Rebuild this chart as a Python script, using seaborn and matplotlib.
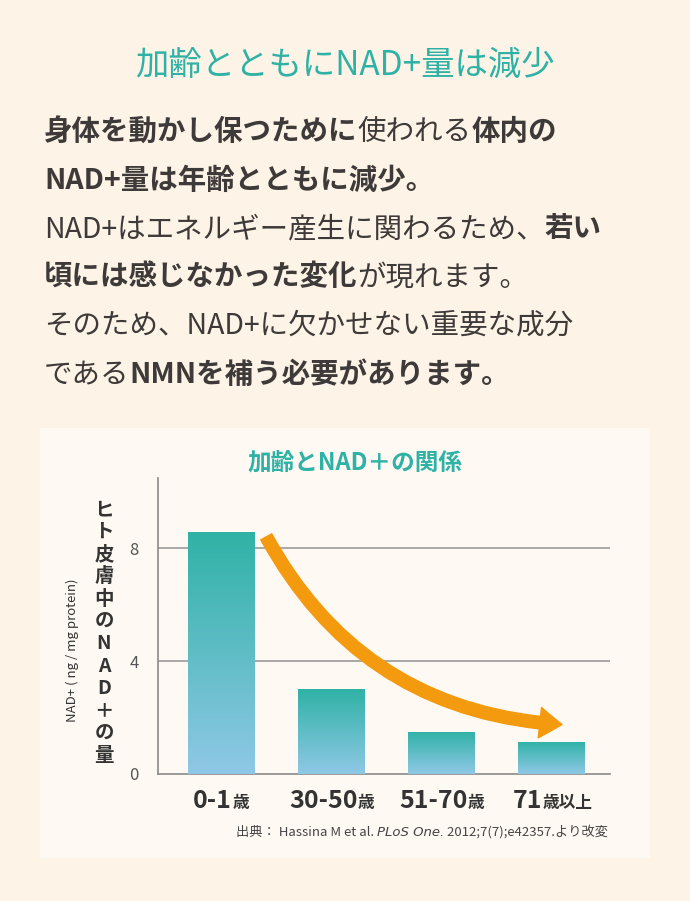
import matplotlib
matplotlib.use("Agg")
import matplotlib.pyplot as plt
import seaborn as sns
import numpy as np
import pandas as pd
from matplotlib.patches import FancyArrowPatch, Rectangle

JP = "Noto Sans CJK JP"
plt.rcParams["font.family"] = JP

categories = ["0-1歳", "30-50歳", "51-70歳", "71歳以上"]
cat_num = ["0-1", "30-50", "51-70", "71"]
cat_suffix = ["歳", "歳", "歳", "歳以上"]
nad_values = [8.6, 3.0, 1.5, 1.15]
y_ticks = [0, 4, 8]

TEAL = "#2fb2a6"
TEXT = "#3d3a39"
BG = "#fdf3e6"
W, H = 690, 901

fig = plt.figure(figsize=(W / 100, H / 100), dpi=100, facecolor=BG)
renderer = fig.canvas.get_renderer()


def px(x, y):
    return x / W, 1 - y / H


def runs(x, y, parts, ha="left", size=19, color=TEXT, family=JP):
    # parts: list of (text, weight, size, style)
    arts = []
    for p in parts:
        txt, wt = p[0], p[1]
        sz = p[2] if len(p) > 2 else size
        st = p[3] if len(p) > 3 else "normal"
        fam = family if st == "normal" or family != JP else "DejaVu Sans"
        t = fig.text(0, 0, txt, fontsize=sz, fontweight=wt, fontstyle=st,
                     color=color, va="baseline", fontfamily=fam)
        arts.append(t)
    widths = [a.get_window_extent(renderer).width for a in arts]
    total = sum(widths)
    if ha == "center":
        x -= total / 2
    elif ha == "right":
        x -= total
    for a, w in zip(arts, widths):
        a.set_position(px(x, y))
        x += w


# header
fig.text(*px(345, 75), "加齢とともにNAD+量は減少", ha="center", va="baseline",
         fontsize=24, color=TEAL)
lines = [
    [("身体を動かし保つために", "bold"), ("使われる", "normal"), ("体内の", "bold")],
    [("NAD+量は年齢とともに減少。", "bold")],
    [("NAD+はエネルギー産生に関わるため、", "normal"), ("若い", "bold")],
    [("頃には感じなかった変化", "bold"), ("が現れます。", "normal")],
    [("そのため、NAD+に欠かせない重要な成分", "normal")],
    [("である", "normal"), ("NMNを補う必要があります。", "bold")],
]
for i, ln in enumerate(lines):
    runs(44, 140 + i * 48.5, ln, size=20.5)

# panel
fig.patches.append(Rectangle(px(40, 858), 610 / W, 430 / H, transform=fig.transFigure,
                             facecolor="#fefaf3", edgecolor="none", zorder=0))
fig.text(*px(355, 470), "加齢とNAD＋の関係", ha="center", va="baseline",
         fontsize=17, fontweight="bold", color=TEAL)

ax = fig.add_axes([158 / W, 1 - 774 / H, (610 - 158) / W, (774 - 478) / H])
ax.set_zorder(3)
ax.set_facecolor("none")
df = pd.DataFrame({"age": categories, "nad": nad_values})
sns.barplot(data=df, x="age", y="nad", ax=ax, width=0.6, color=TEAL,
            edgecolor="none", zorder=2)

# gradient fill
grad = np.linspace(0, 1, 256).reshape(-1, 1)
cmap = matplotlib.colors.LinearSegmentedColormap.from_list("g", ["#8fc8e6", TEAL])
for bar in ax.patches:
    x0, y0 = bar.get_x(), bar.get_y()
    w, h = bar.get_width(), bar.get_height()
    im = ax.imshow(grad, extent=[x0, x0 + w, y0, y0 + h], origin="lower",
                   cmap=cmap, aspect="auto", zorder=3)
    im.set_clip_path(bar)
ax.set_xlim(-0.57, 3.53)
ax.set_ylim(0, 10.5)

for v in y_ticks[1:]:
    ax.axhline(v, color="#9a9a9a", lw=1.2, zorder=1)
sns.despine(ax=ax, top=True, right=True)
for s in ["left", "bottom"]:
    ax.spines[s].set_color("#8a8a8a")
    ax.spines[s].set_linewidth(1.2)
ax.set_yticks(y_ticks)
ax.set_yticklabels([str(v) for v in y_ticks], fontsize=12, color="#555555")
ax.tick_params(axis="y", length=0, pad=14)
ax.tick_params(axis="x", length=0)
ax.set_xticklabels([])
ax.set_xlabel("")
ax.set_ylabel("")

arrow = FancyArrowPatch((0.4, 8.5), (3.12, 1.75), connectionstyle="arc3,rad=0.28",
                        arrowstyle="simple,head_width=2.2,head_length=1.6,tail_width=0.9",
                        mutation_scale=10, color="#f39a0f", zorder=5)
ax.add_patch(arrow)

# x labels
for i, (n, s) in enumerate(zip(cat_num, cat_suffix)):
    xc = 221 + i * 110.5
    runs(xc, 808, [(n, "bold", 18), (s, "bold", 12)], ha="center", color="#333333")

# y labels
ychars = list("ヒト皮膚中のNAD+の量")
for j, c in enumerate(ychars):
    c = "＋" if c == "+" else c
    fig.text(*px(104, 510 + j * 22.3), c, ha="center", va="center", fontsize=14,
             fontweight="bold", color="#333333")
fig.text(*px(72, 650), "NAD+ ( ng / mg protein)", rotation=90, ha="center", va="center",
         fontsize=9.5, color="#333333")

runs(608, 836, [("出典： Hassina M et al. ", "normal", 9.5), ("PLoS One.", "normal", 9.5, "italic"),
                (" 2012;7(7);e42357.より改変", "normal", 9.5)], ha="right", color="#444444")

fig.savefig("out.png", dpi=100, facecolor=BG)
